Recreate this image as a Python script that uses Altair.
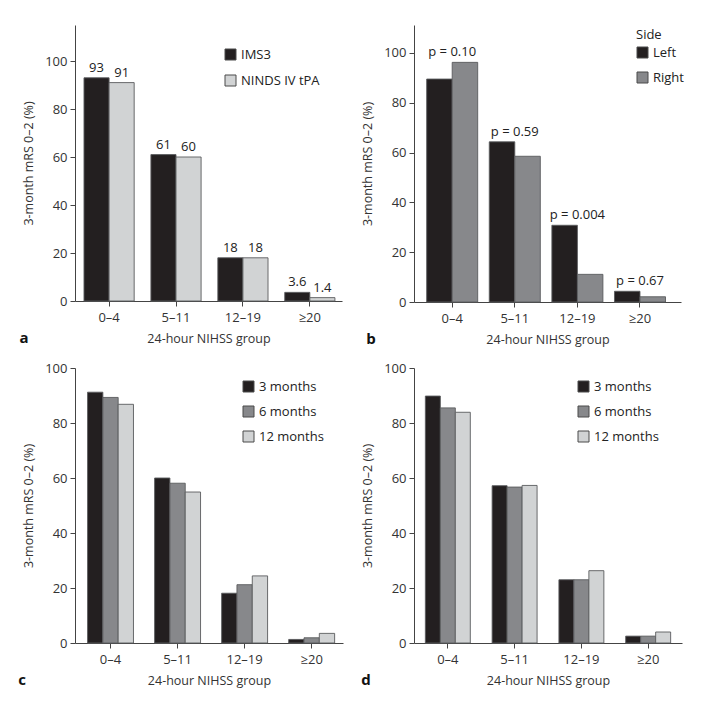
import altair as alt
import pandas as pd

categories = ["0–4", "5–11", "12–19", "≥20"]

a_series = ["IMS3", "NINDS IV tPA"]
a_ims3 = [93, 61, 18, 3.6]
a_ninds = [91, 60, 18, 1.4]
a_labels_ims3 = ["93", "61", "18", "3.6"]
a_labels_ninds = ["91", "60", "18", "1.4"]

b_series = ["Left", "Right"]
b_left = [89.5, 64.3, 30.8, 4.3]
b_right = [96.2, 58.5, 11.1, 2.1]
b_pvalues = ["p = 0.10", "p = 0.59", "p = 0.004", "p = 0.67"]

periods = ["3 months", "6 months", "12 months"]
c_3m = [91.2, 60.0, 18.1, 1.3]
c_6m = [89.3, 58.1, 21.2, 1.9]
c_12m = [86.8, 54.9, 24.4, 3.5]
d_3m = [89.8, 57.2, 23.0, 2.5]
d_6m = [85.5, 56.7, 23.0, 2.5]
d_12m = [83.9, 57.3, 26.3, 4.0]

y_ticks = [0, 20, 40, 60, 80, 100]
x_title = "24-hour NIHSS group"
y_title = "3-month mRS 0–2 (%)"

FONT = "Open Sans"
DARK = "#231f20"
LIGHT = "#d1d3d4"
MID = "#87888b"
STROKE = "#5a5b5d"


def long_df(series_names, value_lists, label_lists=None):
    rows = []
    for s_i, (name, vals) in enumerate(zip(series_names, value_lists)):
        for c_i, (cat, v) in enumerate(zip(categories, vals)):
            row = {"group": cat, "series": name, "value": v}
            if label_lists is not None:
                row["label"] = label_lists[s_i][c_i]
            rows.append(row)
    return pd.DataFrame(rows)


def panel(df, series_names, colors, legend, width, height, ymax,
          pin, pout, palign, letter, letter_dx, extra=None):
    x_enc = alt.X("group:N", sort=categories,
                  scale=alt.Scale(paddingInner=pin, paddingOuter=pout, align=palign),
                  axis=alt.Axis(title=x_title, labelAngle=0, labelPadding=5,
                                titlePadding=8))
    y_enc = alt.Y("value:Q", scale=alt.Scale(domain=[0, ymax], nice=False, zero=True),
                  axis=alt.Axis(title=y_title, values=y_ticks, labelPadding=3,
                                titlePadding=9))
    xo = alt.XOffset("series:N", sort=series_names,
                     scale=alt.Scale(paddingInner=0, paddingOuter=0))
    bars = alt.Chart(df).mark_bar(stroke=STROKE, strokeWidth=0.9).encode(
        x=x_enc, y=y_enc, xOffset=xo,
        color=alt.Color("series:N", sort=series_names,
                        scale=alt.Scale(domain=series_names, range=colors),
                        legend=legend),
    )
    layers = [bars]
    if extra is not None:
        layers.extend(extra)
    lt = alt.Chart(pd.DataFrame({"t": [letter]})).mark_text(
        font=FONT, fontSize=15, fontWeight="bold", color="#111",
        align="center", baseline="middle", dx=letter_dx
    ).encode(text="t:N", x=alt.value(0), y=alt.value(height + 37))
    layers.append(lt)
    return alt.layer(*layers).properties(width=width, height=height)


def make_legend(title, lx, ly, row_pad):
    kw = dict(orient="none", legendX=lx, legendY=ly, symbolType="square",
              symbolSize=121, symbolStrokeColor="#4a4a4a", symbolStrokeWidth=1,
              labelFont=FONT, labelFontSize=13, labelColor="#222",
              rowPadding=row_pad, padding=0, labelOffset=4, symbolOpacity=1)
    if title:
        return alt.Legend(title=title, titleFont=FONT, titleFontSize=13,
                          titleFontWeight="normal", titleColor="#222",
                          titlePadding=4, **kw)
    return alt.Legend(title=None, **kw)


# Panel a
df_a = long_df(a_series, [a_ims3, a_ninds], [a_labels_ims3, a_labels_ninds])
a_text = alt.Chart(df_a).mark_text(font=FONT, fontSize=13, color="#222",
                                   baseline="bottom", dy=-3).encode(
    x=alt.X("group:N", sort=categories),
    xOffset=alt.XOffset("series:N", sort=a_series),
    y="value:Q", text="label:N")
pa = panel(df_a, a_series, [DARK, LIGHT], make_legend(None, 149, 23, 11), 267, 276, 115,
           0.25, 0.12, 0.56, "a", -51, [a_text])

# Panel b
df_b = long_df(b_series, [b_left, b_right])
df_bp = pd.DataFrame({"group": categories, "p": b_pvalues,
                      "top": [max(l, r) for l, r in zip(b_left, b_right)]})
b_text = alt.Chart(df_bp).mark_text(font=FONT, fontSize=13, color="#222",
                                    baseline="bottom", dy=-3).encode(
    x=alt.X("group:N", sort=categories), y="top:Q", text="p:N")
pb = panel(df_b, b_series, [DARK, MID], make_legend("Side", 222, 4, 10), 267, 277, 111.2,
           0.185, 0.225, 0.45, "b", -43, [b_text])

# Panel c
df_c = long_df(periods, [c_3m, c_6m, c_12m])
pc = panel(df_c, periods, [DARK, MID, LIGHT], make_legend(None, 167, 12, 10), 268, 275, 100,
           0.315, 0.156, 0.6, "c", -53)

# Panel d
df_d = long_df(periods, [d_3m, d_6m, d_12m])
pd_ = panel(df_d, periods, [DARK, MID, LIGHT], make_legend(None, 163, 12, 10), 268, 275, 100,
            0.327, 0.17, 0.5, "d", -48)

top = alt.hconcat(pa, pb, spacing=72, bounds="flush").resolve_scale(
    color="independent", xOffset="independent", x="independent", y="independent"
).resolve_legend(color="independent")
bottom = alt.hconcat(pc, pd_, spacing=71, bounds="flush").resolve_scale(
    color="independent", xOffset="independent", x="independent", y="independent"
).resolve_legend(color="independent")

chart = alt.vconcat(top, bottom, spacing=15, bounds="full").resolve_scale(
    color="independent", xOffset="independent", x="independent", y="independent"
).resolve_legend(color="independent").properties(
    padding={"left": 10, "top": 17, "right": 5, "bottom": 5}
).configure_view(stroke=None).configure_axis(
    domainColor="#444", tickColor="#444", tickSize=5, grid=False,
    labelFont=FONT, labelFontSize=13, labelColor="#333",
    titleFont=FONT, titleFontSize=12.5, titleFontWeight="normal", titleColor="#333"
)

chart.save("out.html", embed_options={"renderer": "svg", "actions": False})
